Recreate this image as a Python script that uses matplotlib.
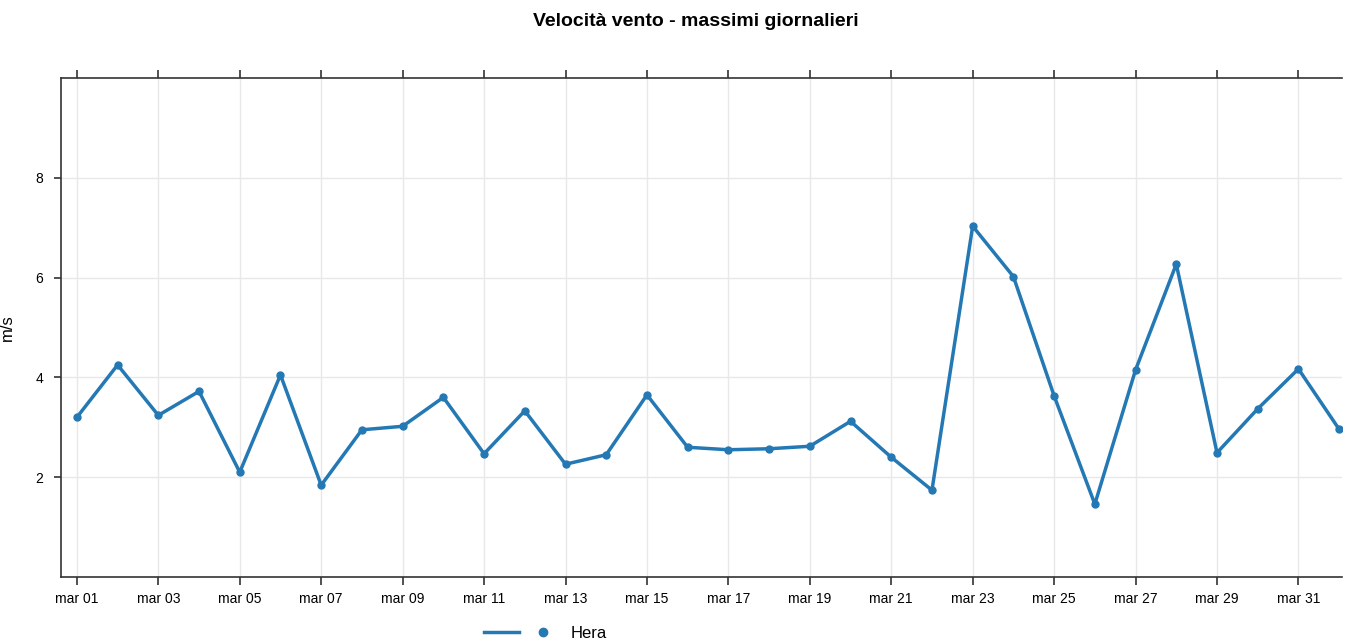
import matplotlib
matplotlib.use("Agg")
import matplotlib.pyplot as plt
from matplotlib.lines import Line2D
from matplotlib.legend_handler import HandlerTuple

days = list(range(1, 33))  # mar 01 .. apr 01
values = [3.2, 4.25, 3.24, 3.72, 2.1, 4.05, 1.84, 2.95, 3.02, 3.6,
          2.47, 3.33, 2.26, 2.45, 3.65, 2.6, 2.55, 2.57, 2.62, 3.12,
          2.4, 1.74, 7.03, 6.02, 3.63, 1.46, 4.15, 6.27, 2.49, 3.37,
          4.17, 2.96]
tick_days = list(range(1, 32, 2))
tick_labels = ["mar %02d" % d for d in tick_days]
y_ticks = [2, 4, 6, 8]
series_name = "Hera"
title = "Velocità vento - massimi giornalieri"
ylabel = "m/s"

plt.rcParams['font.family'] = ['Liberation Sans', 'DejaVu Sans']

fig = plt.figure(figsize=(13.52, 6.43), dpi=100)
ax = fig.add_axes([61/1352, 1 - 577/643, (1342-61)/1352, (577-78)/643])

color = "#2479b4"
ax.plot(days, values, color=color, lw=2.5, marker='o', ms=5, zorder=3)

ax.set_xlim(0.61, 32.07)
ax.set_ylim(0, 10)
ax.set_xticks(tick_days)
ax.set_xticklabels(tick_labels, fontsize=10)
ax.set_yticks(y_ticks)
ax.set_yticklabels([str(v) for v in y_ticks], fontsize=10)
ax.grid(True, color="#e8e8e8", lw=1)
ax.set_axisbelow(True)
ax.spines['right'].set_visible(False)
for s in ['left', 'bottom', 'top']:
    ax.spines[s].set_color('#333333')
    ax.spines[s].set_linewidth(1.2)
ax.tick_params(axis='x', top=True, direction='out', length=6, width=1.2, color='#333333', pad=5)
ax.tick_params(axis='y', direction='out', length=5, width=1.2, color='#333333', pad=8)
ax.set_ylabel(ylabel, fontsize=12)
ax.yaxis.set_label_coords(-(61 - 15) / 1281, 0.5)

fig.text(0.515, 1 - 22 / 643, title, fontsize=14, fontweight='bold',
         ha='center', va='center')

line_h = Line2D([], [], color=color, lw=2.5)
mark_h = Line2D([], [], color=color, lw=0, marker='o', ms=6)
ax.legend([(line_h, mark_h)], [series_name], loc='center',
          bbox_to_anchor=((545 - 61) / 1281, -(633 - 577) / 499), frameon=False,
          fontsize=12, handlelength=4.6, handletextpad=0.6,
          handler_map={tuple: HandlerTuple(ndivide=2, pad=0.4)})

fig.savefig("out.png", dpi=100)
